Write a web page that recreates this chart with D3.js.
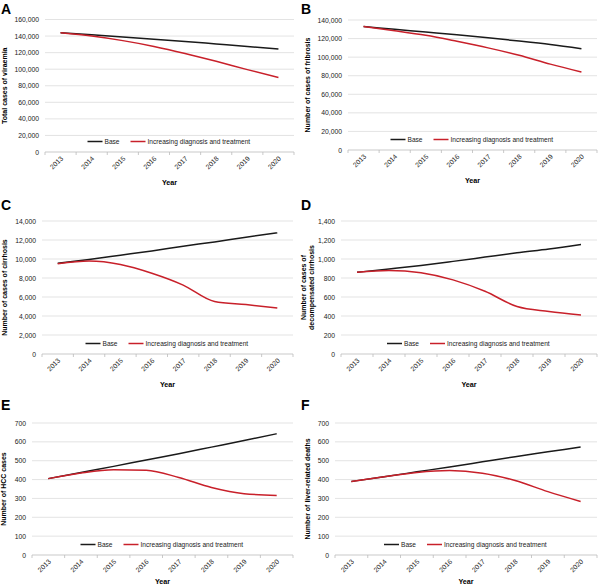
<!DOCTYPE html>
<html lang="en">
<head>
<meta charset="UTF-8">
<title>HCV projections</title>
<script src="https://d3js.org/d3.v7.min.js"></script>
<style>
  body { margin: 0; background: #fff; }
  svg { font-family: "Liberation Sans", Arial, sans-serif; }
</style>
</head>
<body>
<svg width="600" height="586"></svg>
<script>
// data
var years = ["2013", "2014", "2015", "2016", "2017", "2018", "2019", "2020"];
var seriesNames = ["Base", "Increasing diagnosis and treatment"];

var viraemiaBase = [144000, 141500, 139000, 136300, 133500, 130500, 127500, 124300];
var viraemiaIncr = [144000, 140000, 134500, 127500, 119000, 109500, 99500, 90000];

var fibrosisBase = [133000, 130000, 127000, 124000, 120800, 117300, 113500, 109000];
var fibrosisIncr = [133000, 128500, 123500, 117000, 110000, 102000, 92500, 84000];

var cirrhosisBase = [9550, 9950, 10400, 10850, 11350, 11800, 12300, 12750];
var cirrhosisIncr = [9500, 9780, 9420, 8500, 7250, 5520, 5200, 4850];

var decompBase = [860, 895, 932, 975, 1020, 1065, 1105, 1152];
var decompIncr = [860, 880, 855, 780, 660, 500, 448, 410];

var hccBase = [405, 438, 470, 504, 537, 572, 607, 643];
var hccIncr = [405, 435, 452, 449, 411, 358, 325, 316];

var deathsBase = [390, 415, 441, 467, 494, 521, 547, 573];
var deathsIncr = [390, 415, 438, 448, 434, 395, 336, 284];

var panels = [
  { letter: "A", title: ["Total cases of viraemia"], max: 160000, step: 20000, base: viraemiaBase, incr: viraemiaIncr,
    left: 45, right: 294, top: 19.5, zero: 152, lx: 1, ly: 14, tx: 4 },
  { letter: "B", title: ["Number of cases of fribrosis"], max: 140000, step: 20000, base: fibrosisBase, incr: fibrosisIncr,
    left: 348, right: 597, top: 20, zero: 150, lx: 301, ly: 14, tx: 307 },
  { letter: "C", title: ["Number of cases of cirrhosis"], max: 14000, step: 2000, base: cirrhosisBase, incr: cirrhosisIncr,
    left: 42, right: 293, top: 221, zero: 354, lx: 1, ly: 210, tx: 4 },
  { letter: "D", title: ["Number of cases of", "decompensated cirrhosis"], max: 1400, step: 200, base: decompBase, incr: decompIncr,
    left: 341, right: 597, top: 221, zero: 354, lx: 301, ly: 210, tx: 304 },
  { letter: "E", title: ["Number of HCC cases"], max: 700, step: 100, base: hccBase, incr: hccIncr,
    left: 32, right: 293, top: 423, zero: 555, lx: 1, ly: 410, tx: 3 },
  { letter: "F", title: ["Number of liver-related deaths"], max: 700, step: 100, base: deathsBase, incr: deathsIncr,
    left: 335, right: 597, top: 423, zero: 555, lx: 301, ly: 410, tx: 307 }
];

var colors = ["#1a1a1a", "#c8202a"];
var fmt = d3.format(",");
var svg = d3.select("svg");

panels.forEach(function(p) {
  var g = svg.append("g");
  var x = d3.scaleBand().domain(years).range([p.left, p.right]);
  var y = d3.scaleLinear().domain([0, p.max]).range([p.zero, p.top]);
  var ticks = d3.range(0, p.max + 1, p.step);

  // gridlines
  g.selectAll(".grid").data(ticks.filter(function(t) { return t > 0; }))
    .enter().append("line")
      .attr("x1", p.left).attr("x2", p.right)
      .attr("y1", function(d) { return y(d); }).attr("y2", function(d) { return y(d); })
      .attr("stroke", "#dcdcdc").attr("stroke-width", 0.8);

  // y tick labels
  g.selectAll(".yl").data(ticks).enter().append("text")
    .attr("x", p.left - 6)
    .attr("y", function(d) { return y(d) + 2.5; })
    .attr("text-anchor", "end")
    .attr("font-size", 6.8)
    .attr("fill", "#222")
    .text(function(d) { return fmt(d); });

  // x axis
  g.append("line").attr("x1", p.left).attr("x2", p.right)
    .attr("y1", p.zero).attr("y2", p.zero)
    .attr("stroke", "#bbb").attr("stroke-width", 0.8);
  var edges = years.map(function(d) { return x(d); }).concat([p.right]);
  g.selectAll(".xt").data(edges).enter().append("line")
    .attr("x1", function(d) { return d; }).attr("x2", function(d) { return d; })
    .attr("y1", p.zero).attr("y2", p.zero + 3)
    .attr("stroke", "#bbb").attr("stroke-width", 0.8);
  g.selectAll(".xl").data(years).enter().append("text")
    .attr("transform", function(d) {
      return "translate(" + (x(d) + x.bandwidth() / 2 + 3) + "," + (p.zero + 7) + ") rotate(-45)";
    })
    .attr("text-anchor", "end")
    .attr("font-size", 6.8)
    .attr("fill", "#222")
    .text(function(d) { return d; });

  // axis titles
  g.append("text")
    .attr("x", (p.left + p.right) / 2)
    .attr("y", Math.min(p.zero + 33, 584))
    .attr("text-anchor", "middle")
    .attr("font-size", 7.2).attr("font-weight", "bold")
    .text("Year");
  var yt = g.append("text")
    .attr("transform", "translate(" + p.tx + "," + (p.top + p.zero) / 2 + ") rotate(-90)")
    .attr("text-anchor", "middle")
    .attr("font-size", 7).attr("font-weight", "bold");
  p.title.forEach(function(t, i) {
    yt.append("tspan").attr("x", 0).attr("dy", i === 0 ? (p.title.length > 1 ? 2 : 2.5) : 7.5).text(t);
  });

  // panel letter
  g.append("text").attr("x", p.lx).attr("y", p.ly)
    .attr("font-size", 14).attr("font-weight", "bold").text(p.letter);

  // lines
  var line = d3.line()
    .x(function(d, i) { return x(years[i]) + x.bandwidth() / 2; })
    .y(function(d) { return y(d); })
    .curve(d3.curveMonotoneX);
  [p.base, p.incr].forEach(function(s, i) {
    g.append("path").datum(s)
      .attr("d", line)
      .attr("fill", "none")
      .attr("stroke", colors[i])
      .attr("stroke-width", 1.5);
  });

  // legend
  var lx = (p.left + p.right) / 2 - 82;
  var ly = p.zero - 10.5;
  var offs = [0, 43];
  seriesNames.forEach(function(n, i) {
    g.append("line")
      .attr("x1", lx + offs[i]).attr("x2", lx + offs[i] + 15)
      .attr("y1", ly).attr("y2", ly)
      .attr("stroke", colors[i]).attr("stroke-width", 1.5);
    g.append("text")
      .attr("x", lx + offs[i] + 17).attr("y", ly + 2.4)
      .attr("font-size", 6.6).attr("fill", "#222")
      .text(n);
  });
});
</script>
</body>
</html>
